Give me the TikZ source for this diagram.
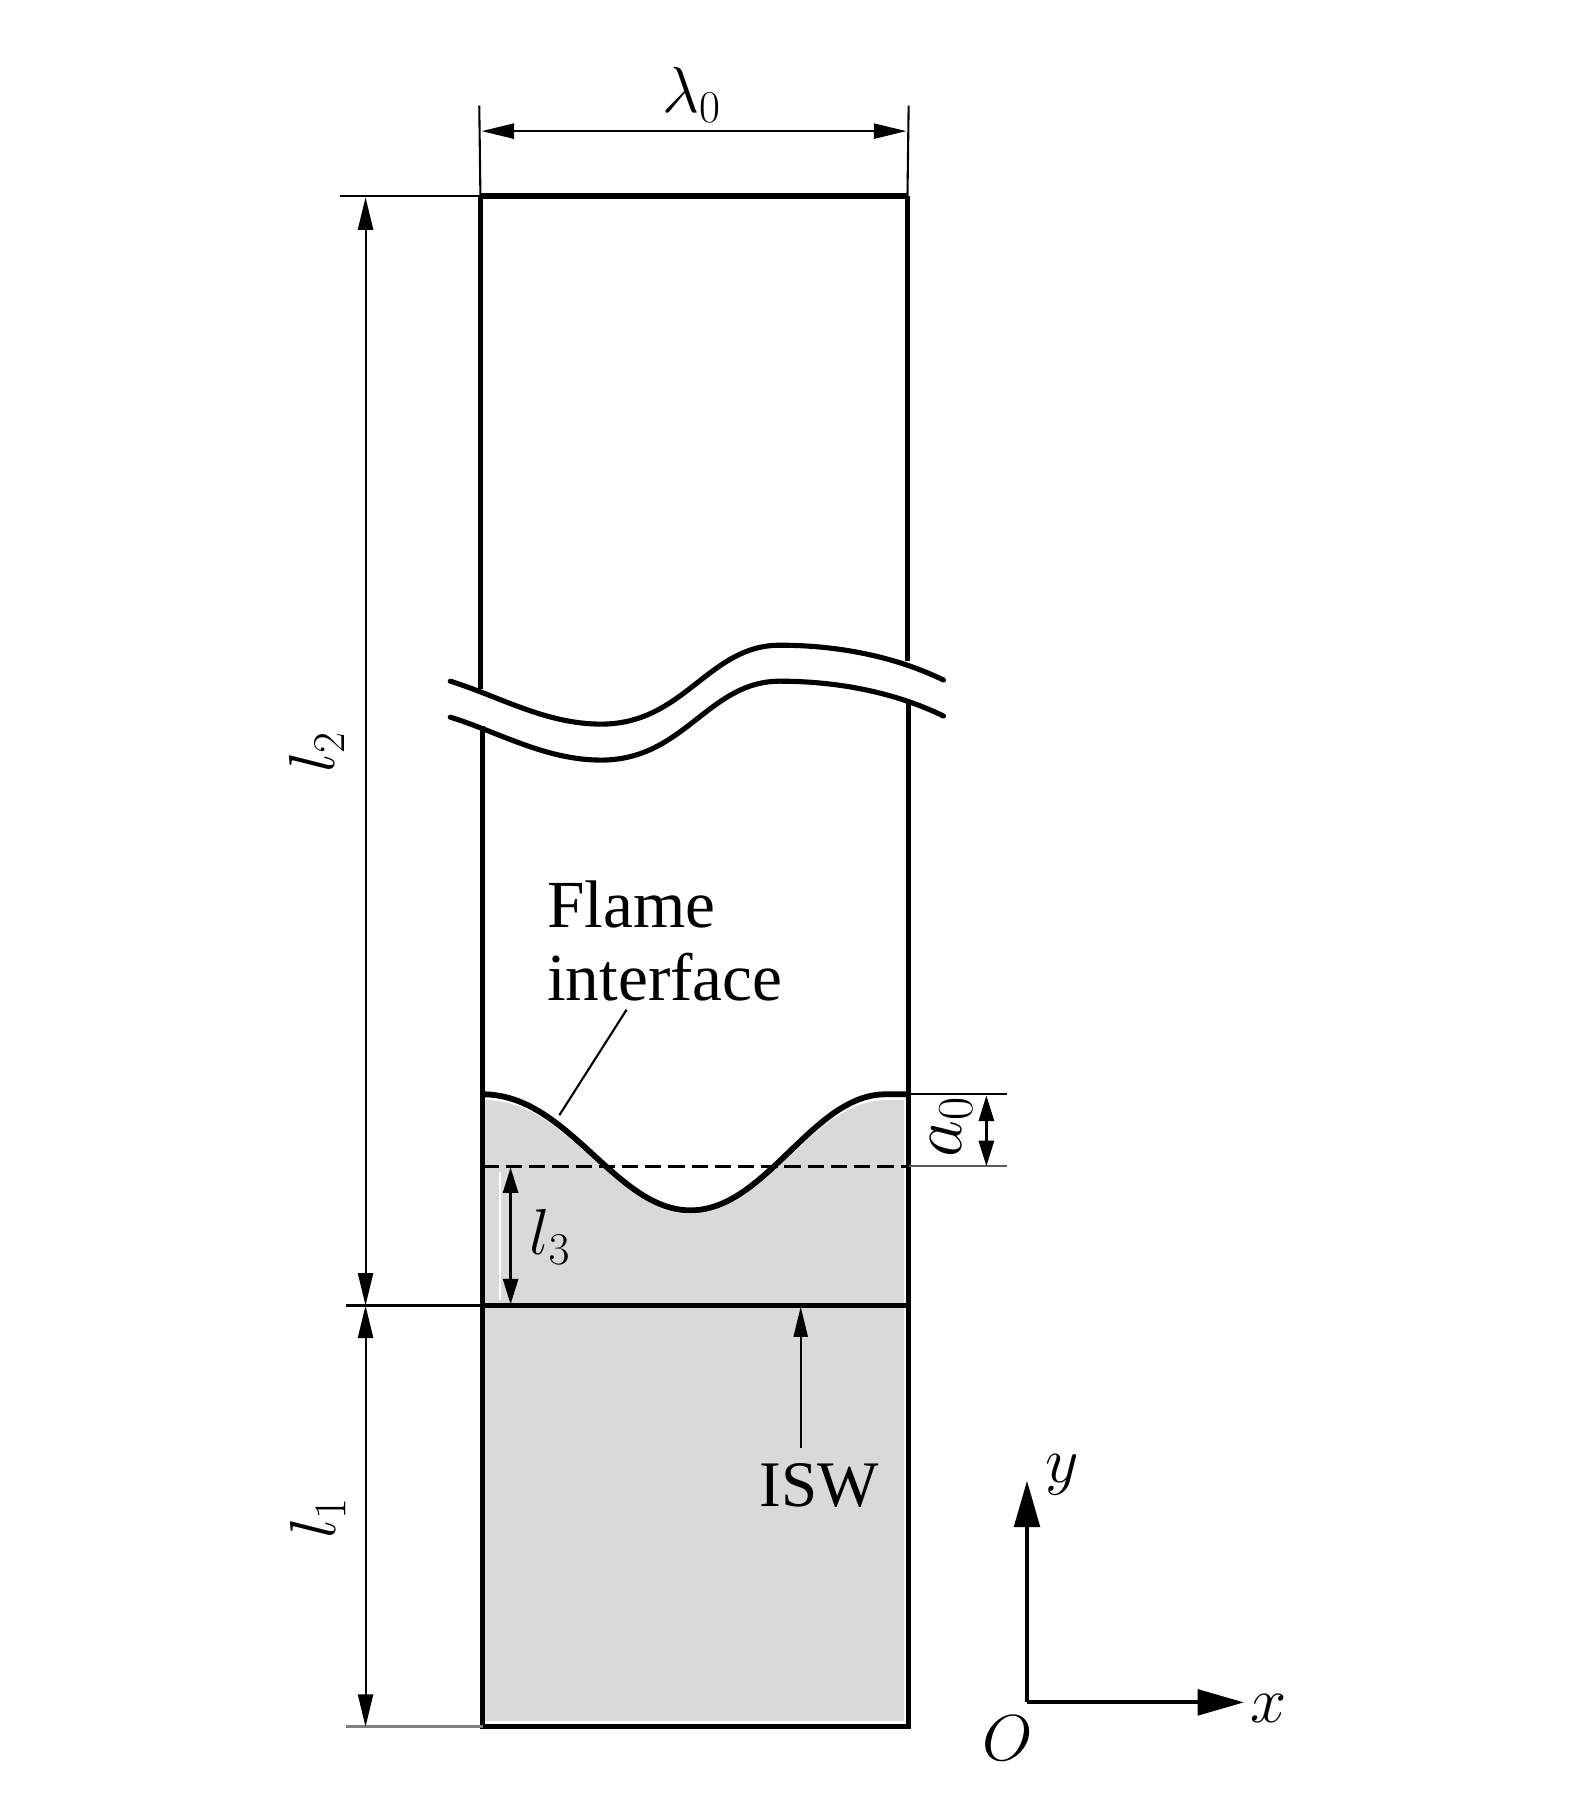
\documentclass[tikz,border=0pt]{standalone}
\usepackage{fix-cm}
\usepackage[no-math]{fontspec}
\setmainfont{Liberation Serif}
\usetikzlibrary{arrows.meta}
\tikzset{
  wall/.style={line width=2.5pt,black},
  thinline/.style={line width=0.9pt,black},
  dimline/.style={line width=0.9pt,{Triangle[length=14pt,width=6.5pt]}-{Triangle[length=14pt,width=6.5pt]}},
  smalldim/.style={line width=1.1pt,{Triangle[length=11pt,width=6.5pt]}-{Triangle[length=11pt,width=6.5pt]}},
  axisline/.style={line width=1.7pt,-{Triangle[length=20pt,width=11pt]}},
  breakline/.style={line width=2.2pt,line cap=round},
  lab/.style={font=\fontsize{28}{30}\selectfont,inner sep=0pt},
  txt/.style={font=\fontsize{29}{32}\selectfont,inner sep=0pt,anchor=base west}
}
\begin{document}
\begin{tikzpicture}[x=0.5pt,y=-0.5pt]
\useasboundingbox (0,0) rectangle (1355.6,1567.5);

\coordinate (tl) at (414,169);
\coordinate (tr) at (782,169);
\coordinate (il) at (416,1125);
\coordinate (ir) at (783,1125);
\coordinate (bl) at (416,1488);
\coordinate (br) at (783,1488);

\fill[fill=black!15] (418,948) .. controls (490,948) and (530,1046) .. (595,1046) .. controls (660,1046) and (700,948) .. (763,948) -- (779,948) -- (779,1483) -- (418,1483) -- cycle;
\draw[white,line width=0.8pt] (431,1010) -- (431,1120);

\draw[wall] (tl) -- (tr);
\draw[wall] (tl) -- (414,594);
\draw[wall] (tr) -- (782,570);
\draw[wall,line width=2.2pt] (416,626) -- (bl) -- (br) -- (783,604);
\draw[wall,line width=2.2pt] (il) -- (ir);
\draw[wall] (416,943) .. controls (490,943) and (530,1043) .. (595,1043) .. controls (660,1043) and (700,943) .. (763,943) -- (783,943);
\draw[line width=1.3pt,dash pattern=on 7pt off 3pt] (416,1005) -- (783,1005);

\draw[breakline] (388,587) .. controls (430,600) and (470,624) .. (518,624) .. controls (590,624) and (610,556) .. (672,556) .. controls (720,556) and (770,565) .. (813,586);
\draw[breakline] (388,618) .. controls (430,631) and (470,655) .. (518,655) .. controls (590,655) and (610,587) .. (672,587) .. controls (720,587) and (770,596) .. (813,617);

\draw[thinline] (413,91) -- (tl);
\draw[thinline] (783,91) -- (tr);
\draw[thinline] (293,169) -- (tl);
\draw[thinline] (298,1125) -- (il);
\draw[gray,line width=1.3pt] (298,1488) -- (bl);
\draw[thinline] (783,943) -- (868,943);
\draw[black!65,line width=1pt] (783,1005) -- (868,1005);

\draw[dimline] (415,113) -- (781,113);
\draw[dimline] (315,170) -- (315,1125);
\draw[dimline] (315,1125) -- (315,1488);
\draw[smalldim] (440,1006) -- (440,1124);
\draw[smalldim] (850,944) -- (850,1005);

\node[lab] (lambdalab) at (596,82) {$\lambda_0$};
\node[lab,rotate=90] (ltwolab) at (273,648) {$l_2$};
\node[lab,rotate=90] (lonelab) at (274,1308) {$l_1$};
\node[lab] (lthreelab) at (474,1066) {$l_3$};
\node[lab,rotate=90,font=\fontsize{31}{33}\selectfont] (alab) at (820,971) {$a_0$};

\node[txt] (flame) at (471,799) {Flame};
\node[txt] (iface) at (471,862) {interface};
\coordinate (ifacefoot) at (540,870);
\coordinate (wavepoint) at (482,961);
\draw[line width=0.9pt] (ifacefoot) -- (wavepoint);

\node[txt,font=\fontsize{28}{30}\selectfont] (isw) at (654,1298) {ISW};
\coordinate (iswfoot) at (690,1248);
\coordinate (iswhead) at (690,1126);
\draw[line width=1pt,-{Triangle[length=13pt,width=6pt]}] (iswfoot) -- (iswhead);

\coordinate (origin) at (885,1467);
\coordinate (yend) at (885,1276);
\coordinate (xend) at (1072,1467);
\draw[axisline] (origin) -- (yend);
\draw[axisline] (origin) -- (xend);
\node[lab] (ylab) at (915,1271) {$y$};
\node[lab] (xlab) at (1093,1472) {$x$};
\node[lab] (olab) at (868,1498) {$O$};

\end{tikzpicture}
\end{document}
